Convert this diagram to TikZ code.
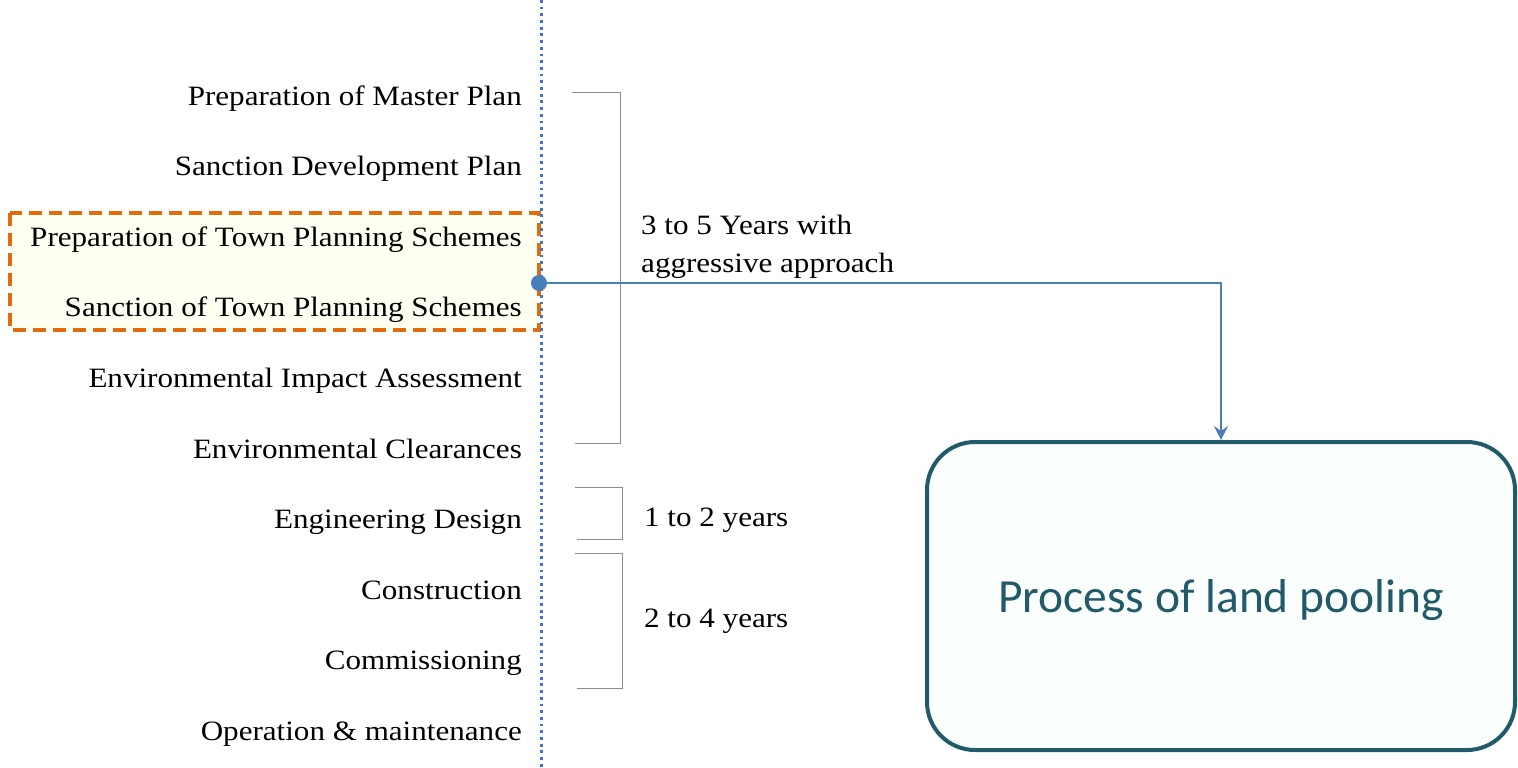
\documentclass[tikz,border=0pt]{standalone}
\usepackage{fontspec}
\setmainfont[FakeStretch=1.11]{Liberation Serif}
\newfontfamily\calibri{Carlito}
\usetikzlibrary{arrows.meta}
\definecolor{linkblue}{HTML}{4A7EBB}
\definecolor{dotblue}{HTML}{4472C4}
\definecolor{schemeorange}{HTML}{E36C0A}
\definecolor{schemefill}{HTML}{FFFFF2}
\definecolor{poolteal}{HTML}{215A69}
\definecolor{poolfill}{HTML}{FAFEFD}
\tikzset{
	stage/.style={anchor=base east, inner sep=0pt, font=\fontsize{28}{34}\selectfont},
	span/.style={anchor=base west, inner sep=0pt, align=left, font=\fontsize{28}{38}\selectfont},
	bracket/.style={black!45, line width=1pt},
	poolbox/.style={draw=poolteal, fill=poolfill, line width=4pt, rounded corners=48pt,
		minimum width=588pt, minimum height=308pt, text=poolteal,
		text height=43pt, text depth=9.5pt,
		font=\calibri\fontsize{47.5}{56}\selectfont}
}

\begin{document}
\begin{tikzpicture}[x=1pt,y=-1pt]
			\useasboundingbox (0,0) rectangle (1518,768);
			\draw[schemeorange, fill=schemefill, line width=4pt, dash pattern=on 13pt off 7pt]
				(10,213) rectangle (539,330);
			\draw[dotblue, line width=3pt, dash pattern=on 2.8pt off 3.9pt] (541,0) -- (541,768);
			\foreach \t [count=\i] in {Preparation of Master Plan, Sanction Development Plan,
				Preparation of Town Planning Schemes, Sanction of Town Planning Schemes,
				Environmental Impact Assessment, Environmental Clearances, Engineering Design,
				Construction, Commissioning, Operation \& maintenance}
				\node[stage] (s\i) at (522,{105+(\i-1)*70.6}) {\t};
			\draw[bracket] (572,92) -- (620,92) -- (620,443) -- (575,443);
			\draw[bracket] (575,487) -- (622,487) -- (622,539) -- (577,539);
			\draw[bracket] (575,553) -- (622,553) -- (622,688) -- (577,688);
			\node[span] (y35) at (641,272) {3 to 5 Years with\\aggressive approach};
			\node[span] (y12) at (644,526) {1 to 2 years};
			\node[span] (y24) at (644,627) {2 to 4 years};
			\node[poolbox] (pool) at (1221,596) {Process of land pooling};
			\node[circle, fill=linkblue, inner sep=0pt, minimum size=16pt] (dot) at (539,283) {};
			\draw[linkblue, line width=1.6pt, -{Stealth[length=14pt, width=14pt, inset=5pt]}]
				(dot) -| (pool.north);
		\end{tikzpicture}
\end{document}
